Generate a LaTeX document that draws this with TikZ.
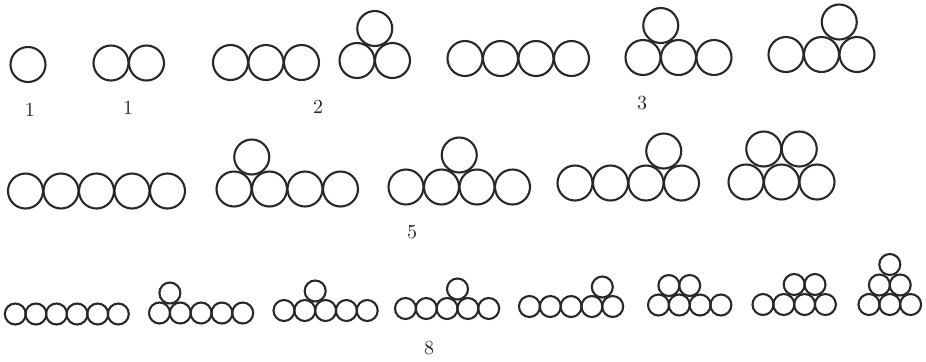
\documentclass[tikz,border=0pt]{standalone}
\usepackage{xcolor}
\definecolor{ink}{RGB}{40,40,40}
\usepackage{tikz}

\begin{document}
\begin{tikzpicture}[x=0.5pt,y=-0.5pt,
  coin/.style={draw=ink,line width=1.05pt,radius=8.75pt},
  pea/.style={draw=ink,line width=1.05pt,radius=5.25pt},
  lbl/.style={text=ink,font=\normalsize,inner sep=0pt}]
  \useasboundingbox (0,0) rectangle (926,361);
  \draw[coin] (28,64.5) circle;
  \foreach \i in {0,1} \draw[coin] (111+35.5*\i,63) circle;
  \foreach \i in {0,1,2} \draw[coin] (230.5+35.5*\i,62.5) circle;
  \foreach \i in {0,1} \draw[coin] (357+35.5*\i,60.5) circle;
  \draw[coin] (374.75,28.5) circle;
  \foreach \i in {0,...,3} \draw[coin] (465+35.5*\i,58.5) circle;
  \foreach \i in {0,1,2} \draw[coin] (643+35.5*\i,57.5) circle;
  \draw[coin] (660.75,25.5) circle;
  \foreach \i in {0,1,2} \draw[coin] (786+35.5*\i,54.5) circle;
  \draw[coin] (839.25,22) circle;
  \foreach \i in {0,...,4} \draw[coin] (25.5+35.5*\i,191) circle;
  \foreach \i in {0,...,3} \draw[coin] (234+35.5*\i,189) circle;
  \draw[coin] (251.75,157) circle;
  \foreach \i in {0,...,3} \draw[coin] (406+35.5*\i,187) circle;
  \draw[coin] (459.25,155) circle;
  \foreach \i in {0,...,3} \draw[coin] (575+35.5*\i,183) circle;
  \draw[coin] (663.75,151) circle;
  \foreach \i in {0,1,2} \draw[coin] (746+35.5*\i,182) circle;
  \foreach \i in {0,1} \draw[coin] (763.75+35.5*\i,149) circle;
  \foreach \i in {0,...,5} \draw[pea] (15.3+20.6*\i,314) circle;
  \foreach \i in {0,...,4} \draw[pea] (159.5+20.8*\i,313) circle;
  \draw[pea] (169.9,293) circle;
  \foreach \i in {0,...,4} \draw[pea] (284+20.8*\i,310.5) circle;
  \draw[pea] (315.2,291) circle;
  \foreach \i in {0,...,4} \draw[pea] (405.5+20.8*\i,308.5) circle;
  \draw[pea] (457.5,289) circle;
  \foreach \i in {0,...,4} \draw[pea] (529.5+20.8*\i,306.5) circle;
  \draw[pea] (602.3,287) circle;
  \foreach \i in {0,...,3} \draw[pea] (658.5+20.8*\i,305) circle;
  \foreach \i in {0,1} \draw[pea] (668.9+20.8*\i,285.5) circle;
  \foreach \i in {0,...,3} \draw[pea] (763+20.8*\i,304.5) circle;
  \foreach \i in {0,1} \draw[pea] (794.2+20.8*\i,284.5) circle;
  \foreach \i in {0,1,2} \draw[pea] (869+20.8*\i,304.5) circle;
  \foreach \i in {0,1} \draw[pea] (879.4+20.8*\i,285) circle;
  \draw[pea] (889.8,264.5) circle;
  \node[lbl] (one) at (30,110) {1};
  \node[lbl] (two) at (128,108) {1};
  \node[lbl] (three) at (318,107) {2};
  \node[lbl] (four) at (642,103) {3};
  \node[lbl] (five) at (412,232) {5};
  \node[lbl] (six) at (429,348) {8};
\end{tikzpicture}
\end{document}
